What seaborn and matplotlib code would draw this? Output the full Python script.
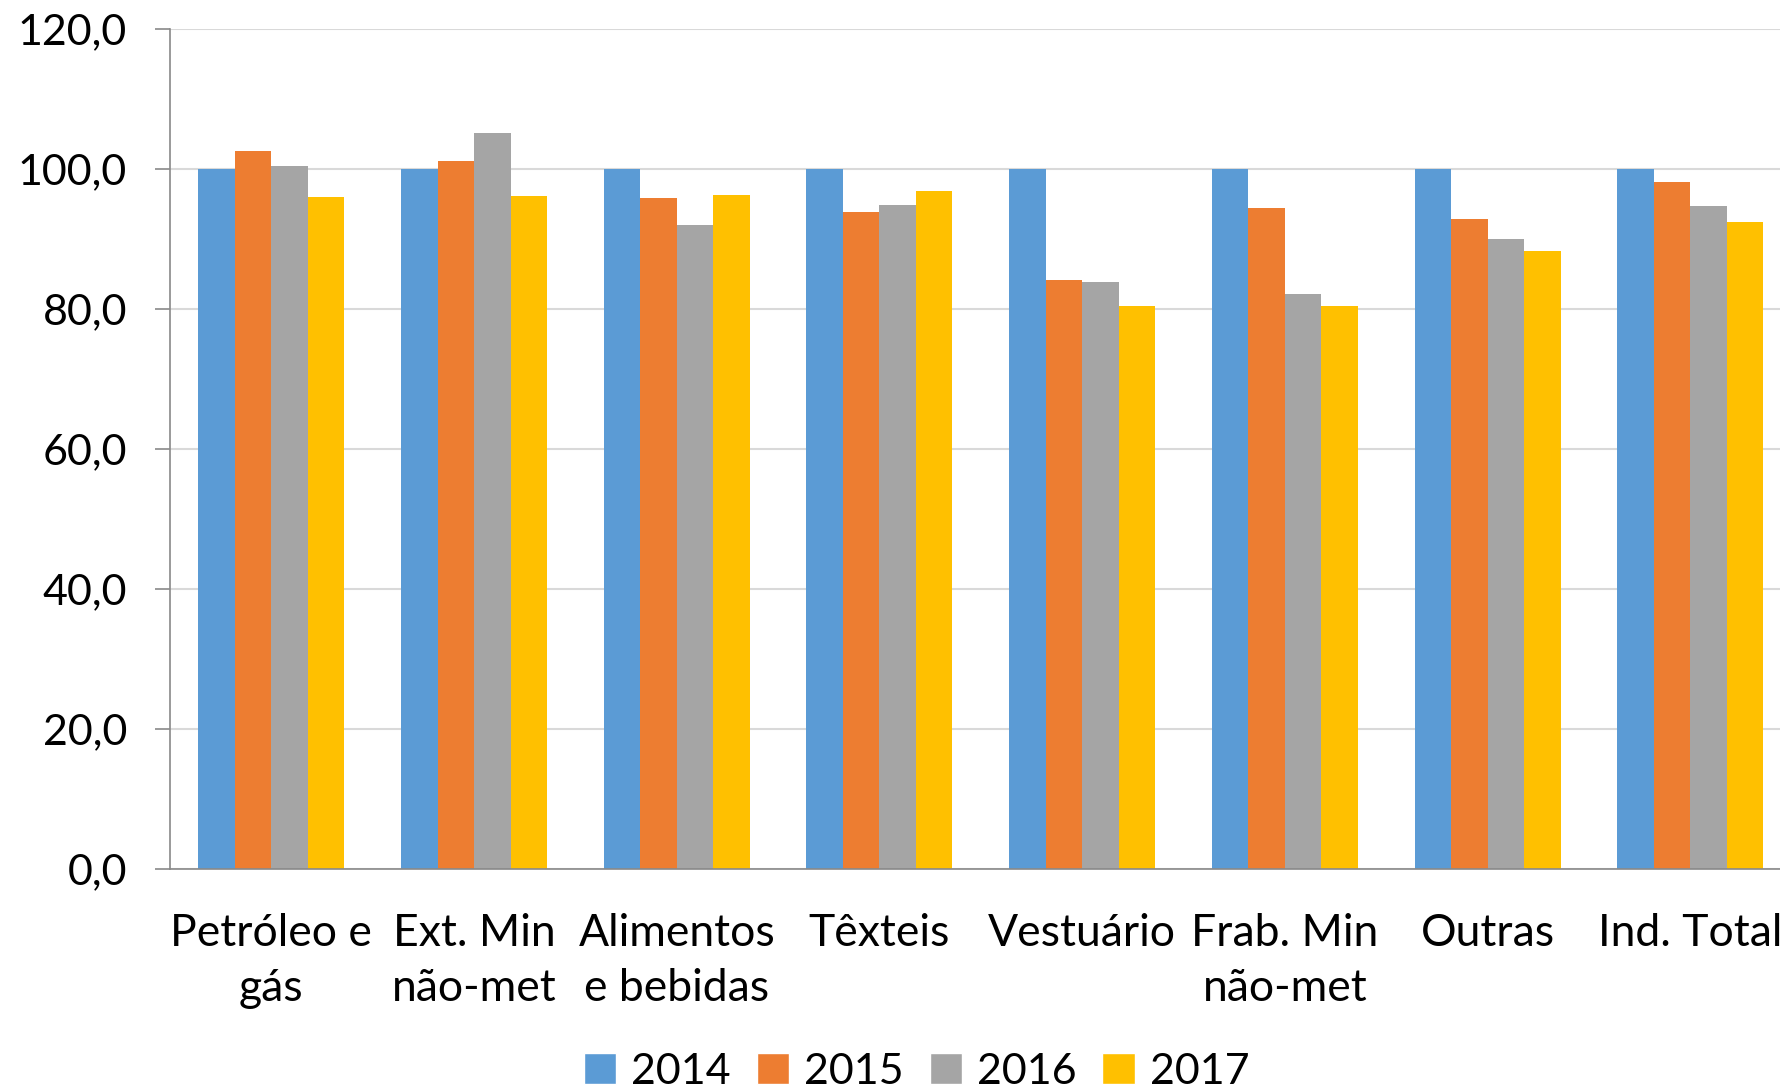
import numpy as np
import pandas as pd
import seaborn as sns
import matplotlib.pyplot as plt
from matplotlib.patches import Patch

# data
categories = ['Petróleo e\ngás', 'Ext. Min\nnão-met', 'Alimentos\ne bebidas', 'Têxteis',
              'Vestuário', 'Frab. Min\nnão-met', 'Outras', 'Ind. Total']
years = ['2014', '2015', '2016', '2017']
v2014 = [100.0, 100.0, 100.0, 100.0, 100.0, 100.0, 100.0, 100.0]
v2015 = [102.6, 101.1, 95.8, 93.9, 84.2, 94.5, 92.8, 98.1]
v2016 = [100.4, 105.2, 92.0, 94.8, 83.8, 82.1, 90.0, 94.7]
v2017 = [96.0, 96.1, 96.3, 96.9, 80.5, 80.4, 88.3, 92.4]
y_ticks = [0, 20, 40, 60, 80, 100, 120]
y_labels = ['0,0', '20,0', '40,0', '60,0', '80,0', '100,0', '120,0']

colors = ['#5b9bd5', '#ed7d31', '#a5a5a5', '#ffc000']

df = pd.DataFrame({
    'categoria': categories * 4,
    'ano': [y for y in years for _ in categories],
    'valor': v2014 + v2015 + v2016 + v2017,
})

sns.set_style('white')
plt.rcParams['font.family'] = ['Lato', 'DejaVu Sans']
plt.rcParams['text.color'] = 'black'
plt.rcParams['xtick.labelcolor'] = 'black'
plt.rcParams['ytick.labelcolor'] = 'black'

fig = plt.figure(figsize=(17.8, 10.88), dpi=100)
ax = fig.add_axes([170 / 1780, 1 - 869 / 1088, 8 * 202.7 / 1780, (869 - 29) / 1088])

sns.barplot(data=df, x='categoria', y='valor', hue='ano', palette=colors,
            width=0.72, saturation=1, linewidth=0, legend=False, ax=ax)

ax.set_ylim(0, 120)
ax.set_xlim(-0.5, len(categories) - 0.5)
ax.set_yticks(y_ticks)
ax.set_yticklabels(y_labels)
ax.yaxis.grid(True, color='#d9d9d9', linewidth=1.5)
ax.set_axisbelow(True)
ax.set_xlabel('')
ax.set_ylabel('')

# category separators as minor ticks
ax.set_xticks(np.arange(-0.5, len(categories), 1.0), minor=True)
ax.tick_params(axis='x', which='major', length=0, labelsize=32, pad=32)
ax.tick_params(axis='x', which='minor', length=9, width=1.2, color='#898989', direction='out')
ax.tick_params(axis='y', length=11, width=1.2, color='#898989', direction='out',
               labelsize=31, pad=20, left=True)
for lbl in ax.get_xticklabels():
    lbl.set_linespacing(1.42)

for side in ['top', 'right']:
    ax.spines[side].set_visible(False)
for side in ['left', 'bottom']:
    ax.spines[side].set_color('#898989')
    ax.spines[side].set_linewidth(1.2)

handles = [Patch(facecolor=c, label=y) for c, y in zip(colors, years)]
fig.legend(handles=handles, loc='center', bbox_to_anchor=(0.515, 0.015), ncol=4,
           frameon=False, fontsize=31, handlelength=0.75, handleheight=0.75,
           handletextpad=0.35, columnspacing=0.6)

fig.savefig('out.png', dpi=100)
